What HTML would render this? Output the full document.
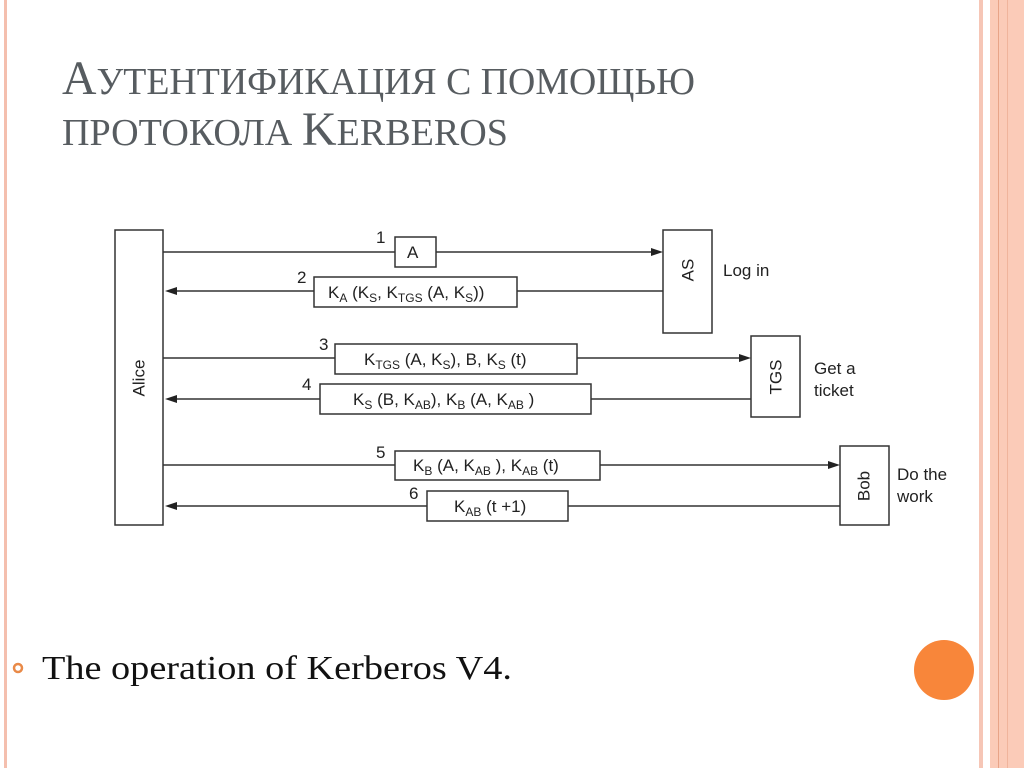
<!DOCTYPE html>
<html><head><meta charset="utf-8"><style>
html,body{margin:0;padding:0;background:#fff}
svg{display:block}
</style></head><body>
<svg width="1024" height="768" viewBox="0 0 1024 768" xmlns="http://www.w3.org/2000/svg">
<rect width="1024" height="768" fill="#fff"/>
<rect x="4" y="0" width="3" height="768" fill="#f4bfae"/>
<rect x="979" y="0" width="4" height="768" fill="#f6c6b6"/>
<rect x="990" y="0" width="34" height="768" fill="#fbcbb8"/>
<rect x="998" y="0" width="1" height="768" fill="#e8a488"/>
<rect x="1007" y="0" width="1" height="768" fill="#f0b49c"/>
<circle cx="944" cy="670" r="30" fill="#f8863a"/>
<g font-family="Liberation Serif, serif" fill="#575c60">
<text x="62" y="94" font-size="48" textLength="633" lengthAdjust="spacingAndGlyphs">А<tspan font-size="38">УТЕНТИФИКАЦИЯ С ПОМОЩЬЮ</tspan></text>
<text x="62" y="145" font-size="38" textLength="446" lengthAdjust="spacingAndGlyphs">ПРОТОКОЛА <tspan font-size="48">K</tspan>ERBEROS</text>
</g>
<circle cx="18" cy="668" r="4" fill="none" stroke="#e98a48" stroke-width="2.5"/>
<text x="42" y="679" font-family="Liberation Serif, serif" font-size="34" fill="#111" textLength="470" lengthAdjust="spacingAndGlyphs">The operation of Kerberos V4.</text>
<g stroke="#333" stroke-width="1.5" fill="#fff">
<rect x="115" y="230" width="48" height="295"/>
<rect x="663" y="230" width="49" height="103"/>
<rect x="751" y="336" width="49" height="81"/>
<rect x="840" y="446" width="49" height="79"/>
<line x1="163" y1="252" x2="655" y2="252"/>
<line x1="173" y1="291" x2="663" y2="291"/>
<line x1="163" y1="358" x2="743" y2="358"/>
<line x1="173" y1="399" x2="751" y2="399"/>
<line x1="163" y1="465" x2="832" y2="465"/>
<line x1="173" y1="506" x2="840" y2="506"/>
<rect x="395" y="237" width="41" height="30"/>
<rect x="314" y="277" width="203" height="30"/>
<rect x="335" y="344" width="242" height="30"/>
<rect x="320" y="384" width="271" height="30"/>
<rect x="395" y="451" width="205" height="29"/>
<rect x="427" y="491" width="141" height="30"/>
</g>
<g fill="#222">
<polygon points="663,252 651,248 651,256"/>
<polygon points="165,291 177,287 177,295"/>
<polygon points="751,358 739,354 739,362"/>
<polygon points="165,399 177,395 177,403"/>
<polygon points="840,465 828,461 828,469"/>
<polygon points="165,506 177,502 177,510"/>
</g>
<g font-family="Liberation Sans, sans-serif" font-size="17" fill="#222">
<text x="139" y="378" transform="rotate(-90 139 378)" text-anchor="middle" dominant-baseline="central">Alice</text>
<text x="688" y="270" transform="rotate(-90 688 270)" text-anchor="middle" dominant-baseline="central">AS</text>
<text x="776" y="377" transform="rotate(-90 776 377)" text-anchor="middle" dominant-baseline="central">TGS</text>
<text x="864" y="486" transform="rotate(-90 864 486)" text-anchor="middle" dominant-baseline="central">Bob</text>
<text x="723" y="276">Log in</text>
<text x="814" y="374">Get a</text>
<text x="814" y="396">ticket</text>
<text x="897" y="480">Do the</text>
<text x="897" y="502">work</text>
<text x="376" y="243">1</text>
<text x="297" y="283">2</text>
<text x="319" y="350">3</text>
<text x="302" y="390">4</text>
<text x="376" y="458">5</text>
<text x="409" y="499">6</text>
<text x="407" y="258">A</text>
<text x="328" y="298">K<tspan font-size="12" dy="4">A</tspan><tspan dy="-4"> (K</tspan><tspan font-size="12" dy="4">S</tspan><tspan dy="-4">, K</tspan><tspan font-size="12" dy="4">TGS</tspan><tspan dy="-4"> (A, K</tspan><tspan font-size="12" dy="4">S</tspan><tspan dy="-4">))</tspan></text>
<text x="364" y="365">K<tspan font-size="12" dy="4">TGS</tspan><tspan dy="-4"> (A, K</tspan><tspan font-size="12" dy="4">S</tspan><tspan dy="-4">), B, K</tspan><tspan font-size="12" dy="4">S</tspan><tspan dy="-4"> (t)</tspan></text>
<text x="353" y="405">K<tspan font-size="12" dy="4">S</tspan><tspan dy="-4"> (B, K</tspan><tspan font-size="12" dy="4">AB</tspan><tspan dy="-4">), K</tspan><tspan font-size="12" dy="4">B</tspan><tspan dy="-4"> (A, K</tspan><tspan font-size="12" dy="4">AB</tspan><tspan dy="-4"> )</tspan></text>
<text x="413" y="471">K<tspan font-size="12" dy="4">B</tspan><tspan dy="-4"> (A, K</tspan><tspan font-size="12" dy="4">AB</tspan><tspan dy="-4"> ), K</tspan><tspan font-size="12" dy="4">AB</tspan><tspan dy="-4"> (t)</tspan></text>
<text x="454" y="512">K<tspan font-size="12" dy="4">AB</tspan><tspan dy="-4"> (t +1)</tspan></text>
</g>
</svg>
</body></html>
